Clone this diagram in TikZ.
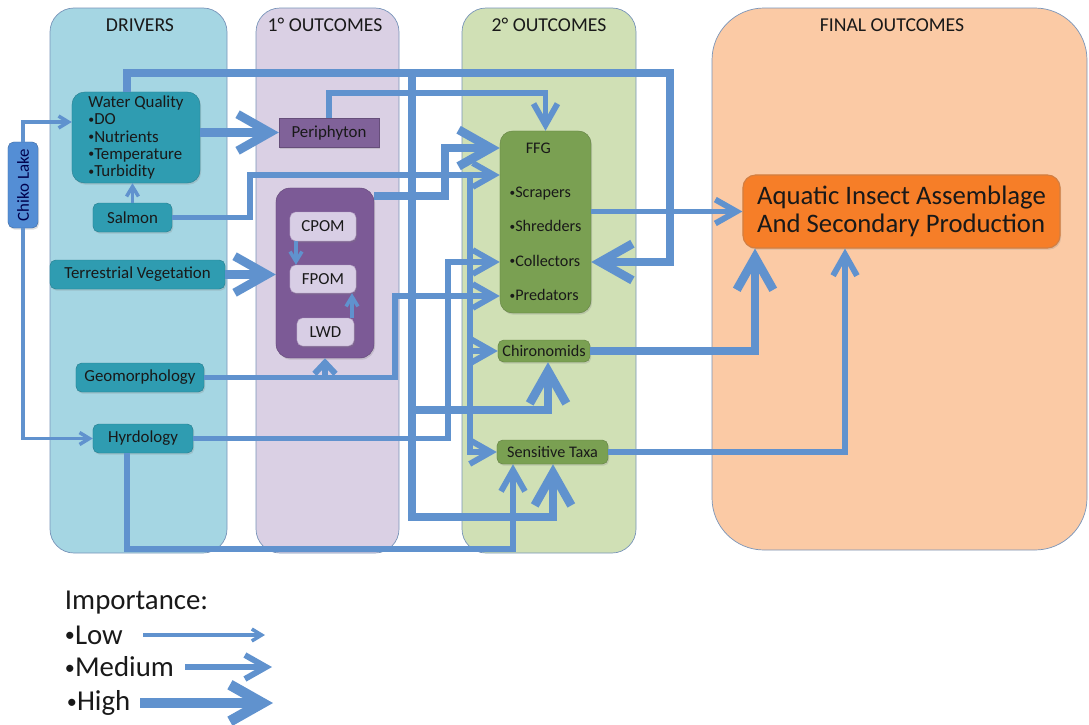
\documentclass[tikz,border=0pt]{standalone}
\usepackage{fontspec}
\setmainfont{Carlito}
\usetikzlibrary{arrows.meta,shadows}

\definecolor{flow}{RGB}{96,146,206}
\definecolor{drvbg}{RGB}{165,214,227}
\definecolor{pribg}{RGB}{218,208,228}
\definecolor{secbg}{RGB}{208,224,181}
\definecolor{finbg}{RGB}{251,202,165}
\definecolor{colline}{RGB}{120,148,185}
\definecolor{drvbox}{RGB}{47,156,177}
\definecolor{lakebox}{RGB}{84,142,213}
\definecolor{peribox}{RGB}{128,98,153}
\definecolor{pombox}{RGB}{124,90,150}
\definecolor{pomitem}{RGB}{216,206,229}
\definecolor{ffgbox}{RGB}{122,160,82}
\definecolor{finbox}{RGB}{246,126,40}

\newcommand\bul{\raisebox{0.08em}{\scalebox{0.7}{•}}}

\begin{document}
\begin{tikzpicture}[x=0.025cm, y=-0.025cm,
    every node/.style={font=\fontsize{12}{13}\selectfont, text=black!90},
    colbox/.style={draw=colline, line width=0.5pt, rounded corners=0.6cm},
    colhead/.style={font=\fontsize{14}{15}\selectfont},
    shd/.style={drop shadow={opacity=0.25, shadow xshift=0.8pt, shadow yshift=-1.2pt}},
    drv/.style={draw=drvbox!80!black, line width=0.3pt, fill=drvbox, rounded corners=4pt, minimum height=0.725cm, inner sep=0pt, shd},
    pomit/.style={draw=pombox!60!white, line width=0.3pt, fill=pomitem, rounded corners=4pt, minimum height=0.7cm, inner sep=0pt, shd},
    sec/.style={draw=ffgbox!80!black, line width=0.3pt, fill=ffgbox, rounded corners=4pt, inner sep=0pt, shd},
    low/.style={draw=flow, line width=2.5pt, -{Straight Barb[length=7pt,width=8.5pt]}},
    med/.style={draw=flow, line width=4.2pt, -{Straight Barb[length=15pt,width=17pt]}},
    high/.style={draw=flow, line width=6.2pt, -{Straight Barb[length=23pt,width=26pt]}},
    leg/.style={anchor=west, font=\fontsize{20.5}{22}\selectfont}]

  \useasboundingbox (0,0) rectangle (1089,724);

  \draw [colbox, fill=drvbg] (50,8) rectangle (227,553);
  \draw [colbox, fill=pribg] (256,8) rectangle (399,553);
  \draw [colbox, fill=secbg] (462,8) rectangle (636,553);
  \draw [colbox, fill=finbg, rounded corners=1.3cm] (712,8) rectangle (1087,550);

  \node [colhead] (drivers) at (140,25) {DRIVERS};
  \node [colhead] (first) at (325,25) {1° OUTCOMES};
  \node [colhead] (second) at (549,25) {2° OUTCOMES};
  \node [colhead] (final) at (892,25) {FINAL OUTCOMES};

  \node [drv, fill=lakebox, draw=lakebox!75!black, minimum width=0.75cm, minimum height=2.15cm, text=black!70!blue] (chiko) at (23,185) {\rotatebox{90}{Chiko Lake}};
  \node [drv, rounded corners=9pt, minimum width=3.2cm, minimum height=2.275cm, align=left, font=\fontsize{12}{12.3}\selectfont] (wq) at (136,137.5) {Water Quality\\\bul DO\\\bul Nutrients\\\bul Temperature\\\bul Turbidity};
  \node [drv, minimum width=1.975cm] (salmon) at (132.5,217.5) {Salmon};
  \node [drv, minimum width=4.375cm] (terr) at (137.5,274.5) {Terrestrial Vegetation};
  \node [drv, minimum width=3.2cm] (geo) at (140,377.5) {Geomorphology};
  \node [drv, minimum width=2.5cm] (hyd) at (143,438.5) {Hyrdology};

  \node [fill=peribox, draw=peribox!80!black, line width=0.3pt, minimum width=2.5cm, minimum height=0.725cm, inner sep=0pt, shd] (peri) at (329,132.5) {Periphyton};
  \node [fill=pombox, draw=pombox!80!black, line width=0.3pt, rounded corners=10pt, minimum width=2.45cm, minimum height=4.25cm, shd] (pom) at (325,273) {};
  \node [pomit, minimum width=1.65cm, minimum height=0.725cm] (cpom) at (323,226.5) {CPOM};
  \node [pomit, minimum width=1.65cm] (fpom) at (323,279) {FPOM};
  \node [pomit, minimum width=1.425cm] (lwd) at (325.5,332) {LWD};

  \node [sec, rounded corners=9pt, minimum width=2.275cm, minimum height=4.55cm, align=left, font=\fontsize{11.5}{12}\selectfont] (ffg) at (545.5,222) {\hspace*{1em}FFG\\[19pt]\bul Scrapers\\[12.5pt]\bul Shredders\\[12.5pt]\bul Collectors\\[12.5pt]\bul Predators};
  \node [sec, minimum width=2.3cm, minimum height=0.55cm, font=\fontsize{11.5}{12}\selectfont] (chiro) at (544,351) {Chironomids};
  \node [sec, minimum width=2.775cm, minimum height=0.6cm, font=\fontsize{11.5}{12}\selectfont] (sens) at (552.5,452) {Sensitive Taxa};

  \node [fill=finbox, draw=finbox!70!gray, line width=0.8pt, rounded corners=9pt, minimum width=7.925cm, minimum height=1.825cm, align=left, font=\fontsize{19}{20}\selectfont, shd] (aq) at (901.5,211.5) {Aquatic Insect Assemblage\\And Secondary Production};

  \coordinate (c1) at (23,122);
  \coordinate (l1) at (352,0);
  \coordinate (p1) at (0,93);
  \coordinate (s1) at (250,175);
  \coordinate (s2) at (470,175);
  \coordinate (g1) at (395,296);
  \coordinate (h1) at (448,262);
  \coordinate (h2) at (127,549);
  \coordinate (h3) at (513,549);
  \coordinate (t1) at (845,0);
  \coordinate (t2) at (755,0);
  \coordinate (w1) at (127,73);
  \coordinate (w2) at (670,73);
  \coordinate (w3) at (412,73);
  \coordinate (w4) at (412,517);
  \coordinate (w5) at (553,517);
  \coordinate (w6) at (412,410);
  \coordinate (w7) at (548,410);
  \coordinate (p2) at (445,196);
  \coordinate (p3) at (445,148);

  \draw [low] (chiko.north) -- (c1) -- (wq.west |- c1);
  \draw [low] (chiko.south) |- (hyd.west);
  \draw [low] (salmon.north) -- (wq.south -| salmon.north);
  \draw [low] ([xshift=-0.675cm]cpom.south) -- ([xshift=-0.675cm]fpom.north);
  \draw [low] (lwd.north -| l1) -- (fpom.south -| l1);

  \draw [med] (peri.north) -- (peri.north |- p1) -| (ffg.north);
  \draw [med] (salmon.east) -| (s1) -- (ffg.west |- s1);
  \draw [med] (s2) |- (chiro.west);
  \draw [med] (s2) |- (sens.west);
  \draw [med, -] (geo.east) -- (g1 |- geo.east);
  \draw [med, -{Straight Barb[length=8pt,width=15pt]}] (pom.south |- geo.east) -- (pom.south);
  \draw [med] (geo.east) -| (g1) -- (ffg.west |- g1);
  \draw [med] (hyd.east) -| (h1) -- (ffg.west |- h1);
  \draw [med] (hyd.south -| h2) -- (h2) -- (h3) -- (sens.south -| h3);
  \draw [med] (ffg.east |- aq.west) -- (aq.west);
  \draw [med] (sens.east) -| (aq.south -| t1);

  \draw [high] (wq.east |- peri.west) -- (peri.west);
  \draw [high] (terr.east) -- (pom.west |- terr.east);
  \draw [high] (wq.north -| w1) -- (w1) -- (w2) |- (ffg.east |- h1);
  \draw [high] (w3) -- (w4) -- (w5) -- (sens.south -| w5);
  \draw [high] (w6) -- (w7) -- (chiro.south -| w7);
  \draw [high] (pom.east |- p2) -- (p2) -- (p3) -- (ffg.west |- p3);
  \draw [high] (chiro.east) -| (aq.south -| t2);

  \node [leg] (imp) at (60,603) {Importance:};
  \node [leg] (lowtxt) at (60,635) {\bul Low};
  \node [leg] (medtxt) at (60,667) {\bul Medium};
  \node [leg] (hightxt) at (62,703) {\bul High};
  \coordinate (lowtip) at (265,0);
  \coordinate (medtip) at (272,0);
  \coordinate (hightip) at (273,0);
  \draw [low] (lowtxt.east -| 143,0) -- (lowtxt.east -| lowtip);
  \draw [med] (medtxt.east -| 185,0) -- (medtxt.east -| medtip);
  \draw [high, line width=7.5pt] (hightxt.east -| 140,0) -- (hightxt.east -| hightip);
\end{tikzpicture}
\end{document}
